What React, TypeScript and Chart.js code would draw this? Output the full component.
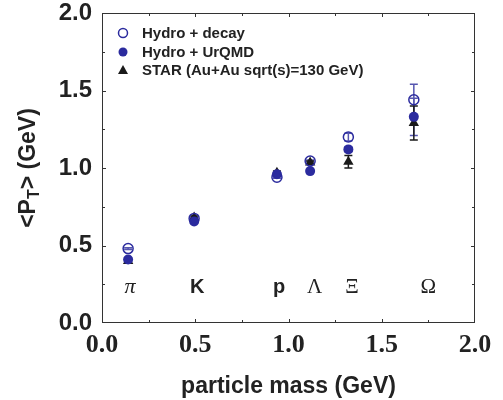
import React, { useEffect, useRef } from "react";
import { Chart, registerables } from "chart.js";
Chart.register(...registerables);

const particles = ["π", "K", "p", "Λ", "Ξ", "Ω"];
const masses = [0.14, 0.494, 0.938, 1.116, 1.321, 1.672];
const hydroDecay = [0.48, 0.675, 0.94, 1.045, 1.2, 1.44];
const hydroDecayErr = [0.006, 0.006, 0.006, 0.006, 0.025, 0.1];
const hydroUrqmd = [0.41, 0.655, 0.96, 0.98, 1.12, 1.33];
const hydroUrqmdErr = [0.005, 0.005, 0.005, 0.005, 0.015, 0.12];
const star = [0.4, 0.68, 0.97, 1.035, 1.04, 1.29];
const starErr = [0.01, 0.01, 0.01, 0.01, 0.04, 0.11];
const labelX = [0.15, 0.51, 0.95, 1.14, 1.34, 1.75];
const labelY = 0.23;
const legendLabels = ["Hydro + decay", "Hydro + UrQMD", "STAR (Au+Au sqrt(s)=130 GeV)"];
const xTitle = "particle mass (GeV)";
const yTitleMain = "<P";
const yTitleSub = "T";
const yTitleRest = "> (GeV)";

const BLUE = "#2b2b9e";
const BLUE_ERR = "#5656b0";
const BLACK = "#1a1a1a";
const TEXT = "#222222";
const SANS = "'Liberation Sans', Arial, sans-serif";
const SERIF = "'Liberation Serif', 'Times New Roman', serif";

const errSets = [
  { y: hydroDecay, e: hydroDecayErr, color: BLUE_ERR },
  { y: hydroUrqmd, e: hydroUrqmdErr, color: BLUE_ERR },
  { y: star, e: starErr, color: BLACK },
];

const errorBarPlugin = {
  id: "errorBars",
  beforeDatasetsDraw(chart: any) {
    const { ctx, scales } = chart;
    const xs = scales.x, ys = scales.y;
    ctx.save();
    ctx.lineWidth = 1.5;
    errSets.forEach((s) => {
      ctx.strokeStyle = s.color;
      masses.forEach((m, i) => {
        const px = xs.getPixelForValue(m);
        const top = ys.getPixelForValue(s.y[i] + s.e[i]);
        const bot = ys.getPixelForValue(s.y[i] - s.e[i]);
        ctx.beginPath();
        ctx.moveTo(px, top);
        ctx.lineTo(px, bot);
        ctx.moveTo(px - 4, top);
        ctx.lineTo(px + 4, top);
        ctx.moveTo(px - 4, bot);
        ctx.lineTo(px + 4, bot);
        ctx.stroke();
      });
    });
    ctx.restore();
  },
};

const decorPlugin = {
  id: "decor",
  afterDraw(chart: any) {
    const { ctx, chartArea: a, scales } = chart;
    const xs = scales.x, ys = scales.y;
    ctx.save();
    // frame
    ctx.strokeStyle = "#333333";
    ctx.lineWidth = 1;
    ctx.strokeRect(a.left + 0.5, a.top + 0.5, a.right - a.left - 1, a.bottom - a.top - 1);
    // ticks
    ctx.beginPath();
    for (let v = 0.25; v < 2; v += 0.25) {
      const len = Math.abs(v % 0.5) < 1e-6 ? 4 : 3;
      const px = Math.round(xs.getPixelForValue(v)) + 0.5;
      ctx.moveTo(px, a.bottom);
      ctx.lineTo(px, a.bottom - len);
      ctx.moveTo(px, a.top);
      ctx.lineTo(px, a.top + len);
      const py = Math.round(ys.getPixelForValue(v)) + 0.5;
      ctx.moveTo(a.left, py);
      ctx.lineTo(a.left + len, py);
      ctx.moveTo(a.right, py);
      ctx.lineTo(a.right - len, py);
    }
    ctx.stroke();

    // particle labels
    ctx.fillStyle = TEXT;
    ctx.textAlign = "center";
    ctx.textBaseline = "middle";
    particles.forEach((p, i) => {
      if (/[A-Za-z]/.test(p)) ctx.font = `bold 20px ${SANS}`;
      else if (p === "π") ctx.font = `italic 22px ${SERIF}`;
      else ctx.font = `21px ${SERIF}`;
      ctx.fillText(p, xs.getPixelForValue(labelX[i]), ys.getPixelForValue(labelY));
    });

    // legend
    const lx = a.left + 21;
    const tx = a.left + 40;
    const rows = [a.top + 20, a.top + 39, a.top + 57];
    ctx.font = `bold 15px ${SANS}`;
    ctx.textAlign = "left";
    ctx.textBaseline = "middle";
    legendLabels.forEach((t, i) => {
      const y = rows[i];
      ctx.beginPath();
      if (i === 0) {
        ctx.strokeStyle = BLUE;
        ctx.lineWidth = 1.5;
        ctx.arc(lx, y, 4.5, 0, Math.PI * 2);
        ctx.stroke();
      } else if (i === 1) {
        ctx.fillStyle = BLUE;
        ctx.arc(lx, y, 4.5, 0, Math.PI * 2);
        ctx.fill();
      } else {
        ctx.fillStyle = BLACK;
        ctx.moveTo(lx, y - 5);
        ctx.lineTo(lx + 5, y + 4);
        ctx.lineTo(lx - 5, y + 4);
        ctx.closePath();
        ctx.fill();
      }
      ctx.fillStyle = TEXT;
      ctx.fillText(t, tx, y + 1);
    });

    // x title
    ctx.font = `bold 23px ${SANS}`;
    ctx.textAlign = "center";
    ctx.textBaseline = "alphabetic";
    ctx.fillText(xTitle, (a.left + a.right) / 2, a.bottom + 70);

    // y title with subscript
    const mainFont = `bold 23px ${SANS}`;
    const subFont = `bold 16px ${SANS}`;
    ctx.font = mainFont;
    const w1 = ctx.measureText(yTitleMain).width;
    const w3 = ctx.measureText(yTitleRest).width;
    ctx.font = subFont;
    const w2 = ctx.measureText(yTitleSub).width;
    const total = w1 + w2 + w3;
    ctx.translate(35, (a.top + a.bottom) / 2);
    ctx.rotate(-Math.PI / 2);
    ctx.textAlign = "left";
    let cx = -total / 2;
    ctx.font = mainFont;
    ctx.fillText(yTitleMain, cx, 0);
    cx += w1;
    ctx.font = subFont;
    ctx.fillText(yTitleSub, cx, 4);
    cx += w2;
    ctx.font = mainFont;
    ctx.fillText(yTitleRest, cx, 0);
    ctx.restore();
  },
};

export default function App() {
  const ref = useRef<HTMLCanvasElement | null>(null);
  useEffect(() => {
    if (!ref.current) return;
    const pts = (ys: number[]) => masses.map((m, i) => ({ x: m, y: ys[i] }));
    const chart = new Chart(ref.current, {
      type: "scatter",
      data: {
        datasets: [
          {
            label: legendLabels[0],
            data: pts(hydroDecay),
            pointStyle: "circle",
            pointRadius: 5,
            pointBorderWidth: 1.5,
            borderColor: BLUE,
            backgroundColor: "rgba(0,0,0,0)",
          },
          {
            label: legendLabels[1],
            data: pts(hydroUrqmd),
            pointStyle: "circle",
            pointRadius: 5,
            pointBorderWidth: 0,
            borderColor: BLUE,
            backgroundColor: BLUE,
          },
          {
            label: legendLabels[2],
            data: pts(star),
            pointStyle: "triangle",
            pointRadius: 6,
            pointBorderWidth: 0,
            borderColor: BLACK,
            backgroundColor: BLACK,
          },
        ],
      },
      options: {
        animation: false,
        responsive: false,
        devicePixelRatio: 1,
        layout: { padding: { left: 0, right: 28, top: 13, bottom: 0 } },
        plugins: { legend: { display: false }, tooltip: { enabled: false } },
        scales: {
          x: {
            type: "linear",
            min: 0,
            max: 2,
            grid: { display: false, drawTicks: false },
            border: { display: false },
            ticks: {
              stepSize: 0.5,
              padding: 7,
              color: TEXT,
              font: { family: SERIF, size: 26, weight: "bold" },
              maxRotation: 0,
              callback: (v: any) => Number(v).toFixed(1),
            },
            afterFit: (s: any) => {
              s.height = 77;
              s.paddingLeft = 0;
              s.paddingRight = 0;
            },
          },
          y: {
            type: "linear",
            min: 0,
            max: 2,
            grid: { display: false, drawTicks: false },
            border: { display: false },
            ticks: {
              stepSize: 0.5,
              padding: 10,
              color: TEXT,
              font: { family: SANS, size: 24, weight: "bold" },
              callback: (v: any) => Number(v).toFixed(1),
            },
            afterFit: (s: any) => {
              s.width = 102;
              s.paddingTop = 0;
              s.paddingBottom = 0;
            },
          },
        },
      },
      plugins: [errorBarPlugin, decorPlugin],
    } as any);
    return () => chart.destroy();
  }, []);
  return (
    <div style={{ position: "absolute", left: 0, top: 0, width: 503, height: 400, background: "#fff" }}>
      <canvas ref={ref} width={503} height={400} style={{ width: 503, height: 400 }} />
    </div>
  );
}
